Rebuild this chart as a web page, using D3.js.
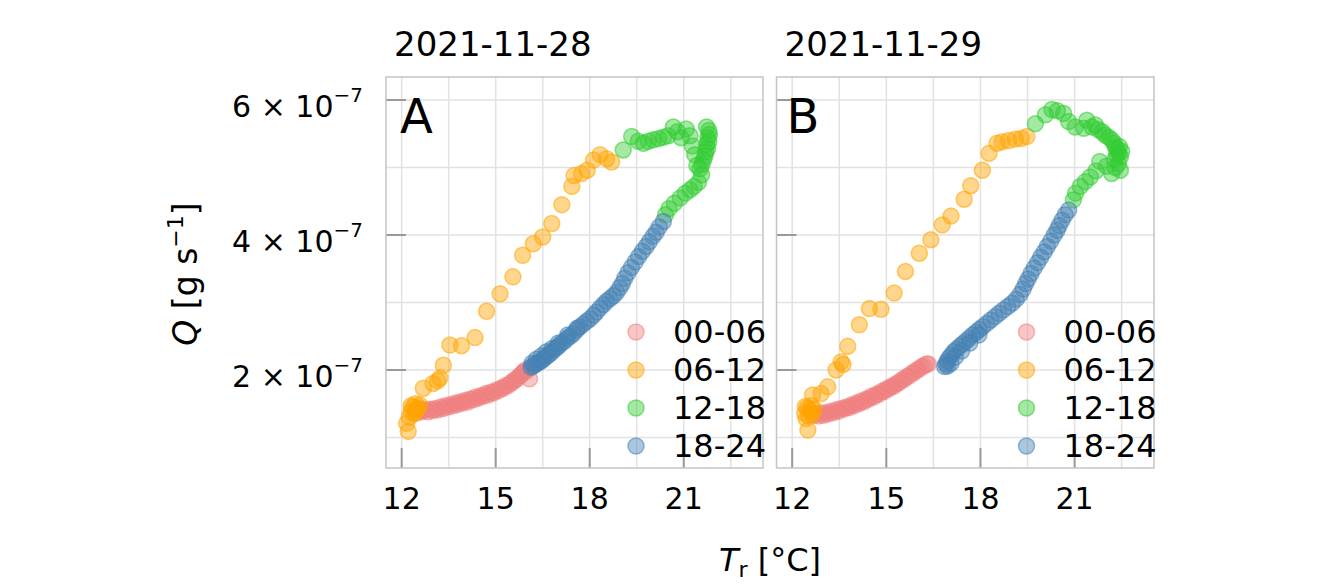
<!DOCTYPE html>
<html><head><meta charset="utf-8">
<script src="https://cdn.jsdelivr.net/npm/d3@7"></script>
<style>
body{margin:0;background:#fff}
text{font-family:"DejaVu Sans",Verdana,sans-serif;fill:#000}
</style>
</head><body>
<svg id="c" width="1342" height="585"></svg>
<script>
// ---- data (T_r in °C, Q in units of 1e-7 g/s) ----
const periods = ["00-06","06-12","12-18","18-24"];
const periodColors = ["#F08080","#FFA500","#32CD32","#4682B4"];
const dates = ["2021-11-28","2021-11-29"];
const panelLetters = ["A","B"];
const xTicks = [12,15,18,21];
const xGrid = [12,13.5,15,16.5,18,19.5,21,22.5];
const yTicks = [2,4,6];
const yGrid = [1,2,3,4,5,6];

const A_0006 = [[12.45,1.40],[12.52,1.37],[12.60,1.42],[12.68,1.39],[12.76,1.41],[12.84,1.38],[12.92,1.42],[13.00,1.40],[13.08,1.43],[13.16,1.41],[13.24,1.45],[13.32,1.43],[13.40,1.47],[13.48,1.45],[13.56,1.49],[13.64,1.47],[13.72,1.51],[13.80,1.49],[13.88,1.53],[13.96,1.51],[14.04,1.55],[14.12,1.53],[14.20,1.57],[14.28,1.56],[14.36,1.60],[14.44,1.58],[14.52,1.62],[14.60,1.61],[14.68,1.65],[14.76,1.63],[14.84,1.67],[14.92,1.66],[15.00,1.70],[15.08,1.69],[15.16,1.73],[15.24,1.73],[15.32,1.77],[15.40,1.77],[15.48,1.81],[15.55,1.82],[15.62,1.86],[15.68,1.87],[15.75,1.91],[15.80,1.92],[15.86,1.96],[15.90,1.97],[15.95,2.00],[16.00,1.99],[16.08,1.87]];
const A_0612 = [[12.21,1.09],[12.16,1.21],[12.24,1.30],[12.30,1.38],[12.36,1.45],[12.44,1.50],[12.52,1.44],[12.40,1.35],[12.58,1.48],[12.30,1.47],[12.48,1.40],[12.69,1.73],[13.00,1.80],[13.15,1.84],[13.22,1.88],[13.33,2.07],[13.54,2.37],[13.91,2.36],[14.34,2.48],[14.71,2.87],[15.14,3.13],[15.55,3.38],[15.86,3.70],[16.20,3.87],[16.50,3.97],[16.79,4.17],[17.11,4.45],[17.43,4.72],[17.50,4.88],[17.74,4.91],[17.92,4.96],[18.12,5.11],[18.33,5.19],[18.54,5.13],[18.70,5.08]];
const A_1218 = [[19.07,5.26],[19.34,5.46],[19.55,5.39],[19.72,5.36],[19.87,5.39],[20.03,5.41],[20.20,5.43],[20.36,5.45],[20.50,5.47],[20.67,5.60],[20.80,5.53],[20.92,5.44],[21.08,5.57],[21.20,5.47],[21.27,5.32],[21.35,5.19],[21.42,5.03],[21.73,5.60],[21.80,5.55],[21.82,5.49],[21.77,5.44],[21.80,5.38],[21.73,5.34],[21.76,5.28],[21.70,5.23],[21.68,5.17],[21.63,5.11],[21.58,5.04],[21.52,4.98],[21.57,4.89],[21.47,4.78],[21.33,4.72],[21.20,4.67],[21.05,4.62],[20.89,4.55],[20.70,4.47],[20.53,4.39],[20.42,4.30]];
const A_1824 = [[20.35,4.20],[20.22,4.12],[20.12,4.04],[20.02,3.98],[19.90,3.90],[19.80,3.83],[19.68,3.76],[19.56,3.68],[19.45,3.60],[19.33,3.52],[19.22,3.44],[19.12,3.36],[19.04,3.28],[18.96,3.22],[18.86,3.15],[18.76,3.10],[18.65,3.06],[18.54,3.02],[18.44,2.97],[18.33,2.92],[18.22,2.86],[18.12,2.81],[18.01,2.76],[17.90,2.72],[17.80,2.68],[17.69,2.64],[17.58,2.59],[17.48,2.54],[17.38,2.50],[17.28,2.47],[17.20,2.43],[17.10,2.40],[17.02,2.36],[16.94,2.33],[16.86,2.30],[16.78,2.26],[16.70,2.23],[16.62,2.20],[16.54,2.17],[16.47,2.14],[16.40,2.12],[16.33,2.10],[16.26,2.08],[16.19,2.06],[16.13,2.04],[16.16,2.10],[16.30,2.16],[16.46,2.21],[16.62,2.27],[16.80,2.32],[17.00,2.40],[17.30,2.52],[17.60,2.62]];

const B_0006 = [[12.68,1.33],[12.76,1.35],[12.84,1.32],[12.92,1.36],[13.00,1.33],[13.08,1.37],[13.16,1.35],[13.24,1.39],[13.32,1.37],[13.40,1.41],[13.48,1.39],[13.56,1.43],[13.64,1.42],[13.72,1.45],[13.80,1.44],[13.88,1.48],[13.96,1.47],[14.04,1.51],[14.12,1.50],[14.20,1.54],[14.28,1.53],[14.36,1.57],[14.44,1.57],[14.52,1.61],[14.60,1.60],[14.68,1.64],[14.76,1.64],[14.84,1.68],[14.92,1.68],[15.00,1.72],[15.08,1.72],[15.16,1.76],[15.24,1.76],[15.32,1.80],[15.40,1.81],[15.48,1.85],[15.56,1.86],[15.64,1.90],[15.72,1.91],[15.80,1.95],[15.88,1.96],[15.96,2.00],[16.04,2.01],[16.12,2.05],[16.20,2.06],[16.28,2.09],[16.34,2.09]];
const B_0612 = [[12.50,1.11],[12.44,1.28],[12.40,1.36],[12.48,1.44],[12.56,1.40],[12.64,1.34],[12.52,1.32],[12.70,1.42],[12.60,1.47],[12.42,1.46],[12.65,1.63],[12.92,1.65],[13.13,1.75],[13.40,2.00],[13.56,2.12],[13.62,2.08],[13.77,2.35],[14.14,2.67],[14.46,2.91],[14.83,2.90],[15.25,3.14],[15.61,3.46],[16.05,3.73],[16.42,3.93],[16.78,4.15],[17.06,4.28],[17.48,4.53],[17.69,4.73],[18.06,4.96],[18.27,5.21],[18.53,5.36],[18.69,5.38],[18.90,5.40],[19.11,5.42],[19.30,5.43],[19.48,5.46]];
const B_1218 = [[19.75,5.65],[20.07,5.78],[20.28,5.86],[20.45,5.84],[20.65,5.80],[20.81,5.68],[21.02,5.60],[21.29,5.58],[21.39,5.70],[21.55,5.60],[21.66,5.63],[21.76,5.56],[21.88,5.53],[21.97,5.48],[22.08,5.45],[22.18,5.41],[22.26,5.36],[22.30,5.30],[22.36,5.27],[22.40,5.22],[22.46,5.16],[22.50,5.24],[22.43,5.31],[22.34,5.19],[22.28,5.12],[22.40,5.06],[22.46,4.96],[22.18,4.91],[22.30,5.00],[22.02,5.02],[21.80,5.09],[21.68,4.95],[21.50,4.86],[21.34,4.79],[21.18,4.72],[21.03,4.62],[20.96,4.52]];
const B_1824 = [[20.81,4.37],[20.70,4.30],[20.60,4.22],[20.51,4.14],[20.44,4.07],[20.35,4.00],[20.24,3.91],[20.13,3.83],[20.03,3.75],[19.92,3.67],[19.82,3.59],[19.71,3.51],[19.61,3.43],[19.52,3.35],[19.44,3.28],[19.36,3.20],[19.26,3.12],[19.14,3.05],[19.01,2.99],[18.87,2.94],[18.73,2.89],[18.59,2.84],[18.46,2.79],[18.33,2.74],[18.20,2.69],[18.07,2.64],[17.96,2.60],[17.86,2.56],[17.75,2.52],[17.64,2.47],[17.54,2.43],[17.44,2.39],[17.34,2.35],[17.24,2.31],[17.15,2.27],[17.07,2.22],[17.00,2.18],[16.94,2.13],[16.90,2.09],[16.86,2.05],[16.95,2.06],[17.06,2.10],[17.20,2.19],[17.40,2.28],[17.66,2.40],[17.95,2.52]];

const panelData = [[A_0006,A_0612,A_1218,A_1824],[B_0006,B_0612,B_1218,B_1824]];

// ---- layout ----
const svg = d3.select("#c");
const plotTop = 77, plotBottom = 468;
const panelX = [[386,763],[776.5,1154]];
const xDomain = [11.5, 23.53];
const yDomain = [0.548, 6.341];
const y = d3.scaleLinear().domain(yDomain).range([plotBottom, plotTop]);
const color = d3.scaleOrdinal().domain(periods).range(periodColors);
const R = 8;

panelX.forEach((rng, p) => {
  const x = d3.scaleLinear().domain(xDomain).range(rng);
  const g = svg.append("g");
  g.selectAll(".gx").data(xGrid).join("line")
    .attr("x1", d => x(d)).attr("x2", d => x(d)).attr("y1", plotTop).attr("y2", plotBottom)
    .attr("stroke", "#e2e2e2").attr("stroke-width", 1.5);
  g.selectAll(".gy").data(yGrid).join("line")
    .attr("y1", d => y(d)).attr("y2", d => y(d)).attr("x1", rng[0]).attr("x2", rng[1])
    .attr("stroke", "#e2e2e2").attr("stroke-width", 1.5);
  g.selectAll(".tx").data(xTicks).join("line")
    .attr("x1", d => x(d)).attr("x2", d => x(d)).attr("y1", plotBottom).attr("y2", plotBottom - 20)
    .attr("stroke", "#9a9a9a").attr("stroke-width", 2);
  g.selectAll(".ty").data(yTicks).join("line")
    .attr("y1", d => y(d)).attr("y2", d => y(d)).attr("x1", rng[0]).attr("x2", rng[0] + 20)
    .attr("stroke", "#9a9a9a").attr("stroke-width", 2);
  g.append("rect").attr("x", rng[0]).attr("y", plotTop).attr("width", rng[1]-rng[0]).attr("height", plotBottom-plotTop)
    .attr("fill", "none").attr("stroke", "#c4c4c4").attr("stroke-width", 1.5);
  periods.forEach((per, i) => {
    g.append("g").selectAll("circle").data(panelData[p][i]).join("circle")
      .attr("cx", d => x(d[0])).attr("cy", d => y(d[1])).attr("r", R)
      .attr("fill", color(per)).attr("fill-opacity", 0.45)
      .attr("stroke", color(per)).attr("stroke-opacity", 0.55).attr("stroke-width", 1.5);
  });
  g.selectAll(".lx").data(xTicks).join("text")
    .attr("x", d => x(d)).attr("y", 509).attr("text-anchor", "middle")
    .attr("font-size", 30).text(d => d);
  g.append("text").attr("x", rng[0] + 8).attr("y", 56).attr("font-size", 34).text(dates[p]);
  g.append("text").attr("x", rng[0] + (p === 0 ? 14 : 10)).attr("y", 133).attr("font-size", 48).text(panelLetters[p]);
  const lx = rng[0] + 250, ly0 = 332, dy = 38;
  const lg = g.append("g");
  periods.forEach((per, i) => {
    lg.append("circle").attr("cx", lx).attr("cy", ly0 + i*dy).attr("r", R)
      .attr("fill", color(per)).attr("fill-opacity", 0.45)
      .attr("stroke", color(per)).attr("stroke-opacity", 0.55).attr("stroke-width", 1.5);
    lg.append("text").attr("x", lx + 37).attr("y", ly0 + i*dy + 11).attr("font-size", 32).text(per);
  });
});

const yl = svg.append("g");
yTicks.forEach(t => {
  const tx = yl.append("text").attr("x", 363).attr("y", y(t) + 17).attr("text-anchor", "end").attr("font-size", 30);
  tx.append("tspan").text(t + " × 10");
  tx.append("tspan").attr("dy", -15).attr("font-size", 20).text("−7");
});

const yt = svg.append("text").attr("transform", "translate(197,274) rotate(-90)")
  .attr("text-anchor", "middle").attr("font-size", 33);
yt.append("tspan").attr("font-style", "italic").text("Q");
yt.append("tspan").text(" [g s");
yt.append("tspan").attr("dy", -14).attr("font-size", 22).text("−1");
yt.append("tspan").attr("dy", 14).text("]");

const xt = svg.append("text").attr("x", 770).attr("y", 571).attr("text-anchor", "middle").attr("font-size", 32);
xt.append("tspan").attr("font-style", "italic").text("T");
xt.append("tspan").attr("dy", 6).attr("font-size", 22).text("r");
xt.append("tspan").attr("dy", -6).text(" [°C]");
</script>
</body></html>
